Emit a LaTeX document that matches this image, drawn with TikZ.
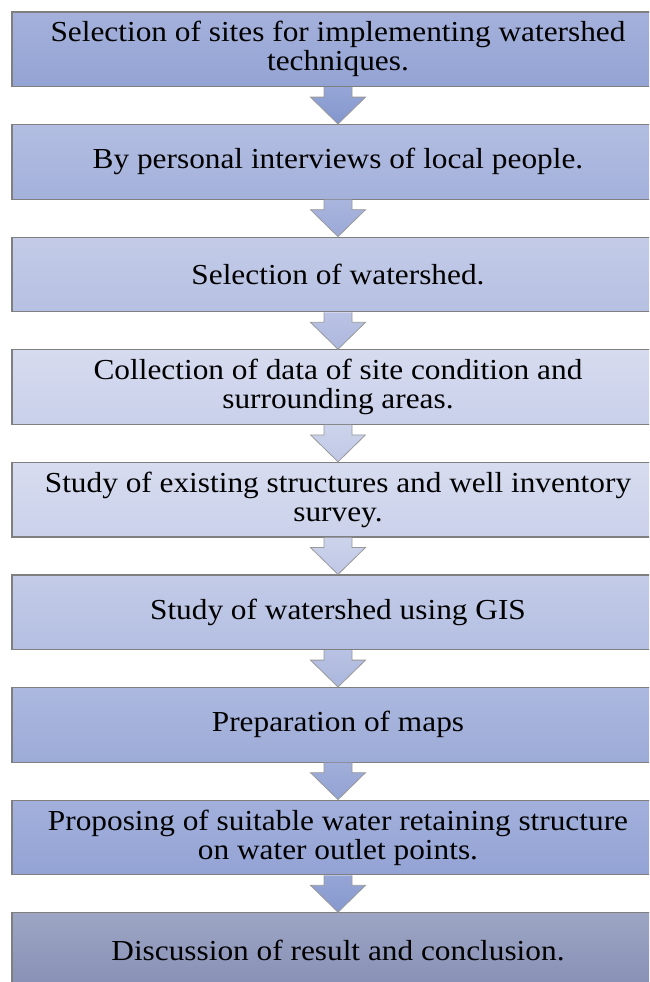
\documentclass[tikz,border=0pt]{standalone}
\usepackage{fontspec}
\setmainfont{Liberation Serif}[FakeStretch=1.08]
\usetikzlibrary{calc}
\definecolor{bordergray}{HTML}{7F7F7F}
\definecolor{tA}{HTML}{A5B1DC}\definecolor{bA}{HTML}{93A3D3}
\definecolor{tB}{HTML}{B2BDE1}\definecolor{bB}{HTML}{A4B1DB}
\definecolor{tC}{HTML}{C3CBE7}\definecolor{bC}{HTML}{B6C0E2}
\definecolor{tD}{HTML}{D6DBEF}\definecolor{bD}{HTML}{C9D0EA}
\definecolor{tE}{HTML}{D7DCEF}\definecolor{bE}{HTML}{CAD1EA}
\definecolor{tF}{HTML}{C3CBE7}\definecolor{bF}{HTML}{B4BFE2}
\definecolor{tG}{HTML}{ACB8DF}\definecolor{bG}{HTML}{9CABD7}
\definecolor{tH}{HTML}{A3B0DC}\definecolor{bH}{HTML}{93A3D4}
\definecolor{tI}{HTML}{9DA5C4}\definecolor{bI}{HTML}{8791B5}
\definecolor{a1t}{HTML}{95A5D6}\definecolor{a1b}{HTML}{8396CD}
\definecolor{a2t}{HTML}{A9B5DD}\definecolor{a2b}{HTML}{9BA9D7}
\definecolor{a3t}{HTML}{BAC3E4}\definecolor{a3b}{HTML}{ADB8DE}
\definecolor{a4t}{HTML}{CCD3EB}\definecolor{a4b}{HTML}{C0C8E6}
\definecolor{a5t}{HTML}{CCD3EB}\definecolor{a5b}{HTML}{BFC7E6}
\definecolor{a6t}{HTML}{B8C2E3}\definecolor{a6b}{HTML}{AAB6DD}
\definecolor{a7t}{HTML}{A0AED9}\definecolor{a7b}{HTML}{92A2D3}
\definecolor{a8t}{HTML}{95A5D5}\definecolor{a8b}{HTML}{8698CE}
\tikzset{
  stepbox/.style={draw=bordergray, line width=1.2pt, minimum width=652pt,
    minimum height=74.5pt, inner sep=0pt, align=center,
    font=\fontsize{29}{29}\selectfont, text=black},
  flowarrow/.style={draw=bordergray!80, line width=0.8pt},
}
\newcommand{\flowarr}[4]{%
  \path[flowarrow, top color=#3, bottom color=#4]
    let \p1=(#1.south), \p2=(#2.north) in
    (\x1-14pt,\y1) -- (\x1-14pt,\y1-10pt) -- (\x1-27.5pt,\y1-10pt) -- (\x1,\y2)
    -- (\x1+27.5pt,\y1-10pt) -- (\x1+14pt,\y1-10pt) -- (\x1+14pt,\y1);
}
\begin{document}
\begin{tikzpicture}[x=1pt,y=-1pt]
\useasboundingbox (0,0) rectangle (649,982);
\clip (0,0) rectangle (649,982);
\fill[white] (0,0) rectangle (649,982);
\node[stepbox, top color=tA, bottom color=bA] (b1) at (338,49.25) {Selection of sites for implementing watershed\\techniques.};
\node[stepbox, top color=tB, bottom color=bB] (b2) at (338,161.85) {By personal interviews of local people.};
\node[stepbox, top color=tC, bottom color=bC] (b3) at (338,274.45) {Selection of watershed.};
\node[stepbox, top color=tD, bottom color=bD] (b4) at (338,387.05) {Collection of data of site condition and\\surrounding areas.};
\node[stepbox, top color=tE, bottom color=bE] (b5) at (338,499.65) {Study of existing structures and well inventory\\survey.};
\node[stepbox, top color=tF, bottom color=bF] (b6) at (338,612.25) {Study of watershed using GIS};
\node[stepbox, top color=tG, bottom color=bG] (b7) at (338,724.85) {Preparation of maps};
\node[stepbox, top color=tH, bottom color=bH] (b8) at (338,837.45) {Proposing of suitable water retaining structure\\on water outlet points.};
\node[stepbox, top color=tI, bottom color=bI] (b9) at (338,950.05) {Discussion of result and conclusion.};
\flowarr{b1}{b2}{a1t}{a1b}
\flowarr{b2}{b3}{a2t}{a2b}
\flowarr{b3}{b4}{a3t}{a3b}
\flowarr{b4}{b5}{a4t}{a4b}
\flowarr{b5}{b6}{a5t}{a5b}
\flowarr{b6}{b7}{a6t}{a6b}
\flowarr{b7}{b8}{a7t}{a7b}
\flowarr{b8}{b9}{a8t}{a8b}
\end{tikzpicture}
\end{document}
